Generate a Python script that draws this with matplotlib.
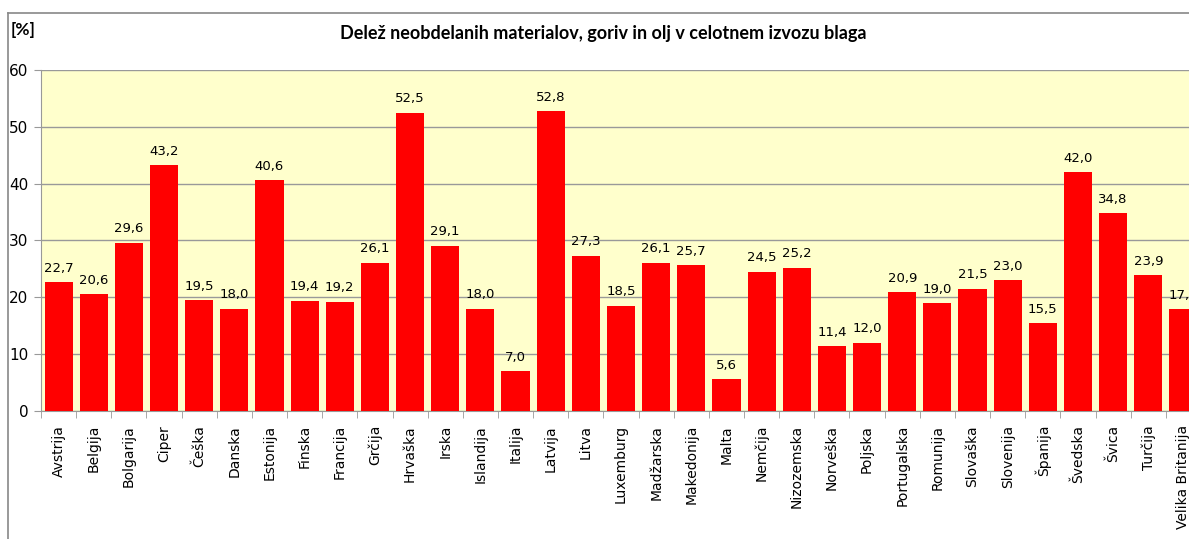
import matplotlib.pyplot as plt
from matplotlib.lines import Line2D

# podatki
drzave = ['Avstrija', 'Belgija', 'Bolgarija', 'Ciper', 'Češka', 'Danska', 'Estonija',
          'Finska', 'Francija', 'Grčija', 'Hrvaška', 'Irska', 'Islandija', 'Italija',
          'Latvija', 'Litva', 'Luxemburg', 'Madžarska', 'Makedonija', 'Malta', 'Nemčija',
          'Nizozemska', 'Norveška', 'Poljska', 'Portugalska', 'Romunija', 'Slovaška',
          'Slovenija', 'Španija', 'Švedska', 'Švica', 'Turčija', 'Velika Britanija']
delez = [22.7, 20.6, 29.6, 43.2, 19.5, 18.0, 40.6, 19.4, 19.2, 26.1, 52.5, 29.1, 18.0,
         7.0, 52.8, 27.3, 18.5, 26.1, 25.7, 5.6, 24.5, 25.2, 11.4, 12.0, 20.9, 19.0,
         21.5, 23.0, 15.5, 42.0, 34.8, 23.9, 17.9]
y_ticks = [0, 10, 20, 30, 40, 50, 60]

fig = plt.figure(figsize=(11.89, 5.39), dpi=100)
ax = fig.add_axes([41 / 1189, 128 / 539, 1160 / 1189, 341 / 539])

x = list(range(len(drzave)))
ax.set_facecolor('#FFFFCC')
ax.bar(x, delez, width=0.8, color='#FF0000', zorder=3)

for xi, v in zip(x, delez):
    ax.text(xi, v + 1.3, f'{v:.1f}'.replace('.', ','), ha='center', va='bottom',
            fontsize=9.5, color='black', zorder=4)

ax.set_xlim(-0.5, len(drzave) - 0.5)
ax.set_ylim(0, 60)
ax.set_yticks(y_ticks)
ax.set_yticklabels([str(t) for t in y_ticks], fontsize=11)
ax.yaxis.grid(True, color='#999999', linewidth=1, zorder=0)
ax.set_axisbelow(True)

ax.set_xticks(x)
ax.set_xticklabels(drzave, rotation=90, fontsize=10, va='top')
ax.set_xticks([i - 0.5 for i in range(len(drzave) + 1)], minor=True)
ax.tick_params(axis='x', which='major', length=0, pad=10)
ax.tick_params(axis='x', which='minor', length=5, color='#999999')
ax.tick_params(axis='y', length=5, color='#999999', pad=4)

for s in ['top', 'right']:
    ax.spines[s].set_visible(False)
for s in ['left', 'bottom']:
    ax.spines[s].set_color('#999999')

# okvir grafa
fig.add_artist(Line2D([8 / 1189, 8 / 1189], [0, 1 - 13 / 539], color='#888888', lw=1.2))
fig.add_artist(Line2D([8 / 1189, 1], [1 - 13 / 539, 1 - 13 / 539], color='#888888', lw=1.2))

fig.text(603 / 1189, 1 - 34 / 539, 'Delež neobdelanih materialov, goriv in olj v celotnem izvozu blaga',
         ha='center', va='center', fontsize=13, fontweight='bold', family='Lato')
fig.text(11 / 1189, 1 - 30 / 539, '[%]', ha='left', va='center', fontsize=12.5,
         fontweight='bold', family='Lato')

fig.savefig('out.png', dpi=100)
